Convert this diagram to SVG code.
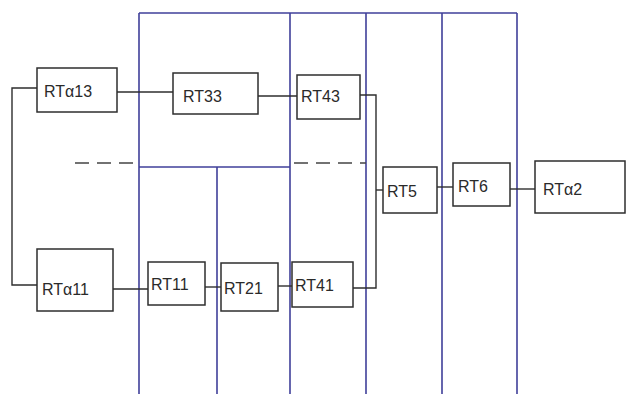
<svg xmlns="http://www.w3.org/2000/svg" width="630" height="394" viewBox="0 0 630 394">
<style>
.grid{stroke:#40409a;stroke-width:1.6;fill:none}
.box{fill:#fff;stroke:#2e2e2e;stroke-width:1.5}
.wire{stroke:#2e2e2e;stroke-width:1.4;fill:none}
.dash{stroke:#444;stroke-width:1.4;stroke-dasharray:14 8;fill:none}
text{font-family:"Liberation Sans",Arial,sans-serif;font-size:16px;fill:#2a2a2a}
</style>
<rect width="630" height="394" fill="#fff"/>
<g id="grid">
<path class="grid" d="M139,13 H517 M139,13 V394 M290,13 V394 M366,13 V394 M442,13 V394 M517,13 V394 M139,167 H290 M217,167 V394"/>
</g>
<g id="connectors">
<path class="wire" d="M37,88 H12 V285 H37"/>
<path class="wire" d="M117,92 H173"/>
<path class="wire" d="M258,96 H297"/>
<path class="wire" d="M360,95 H376 V288 H353"/>
<path class="wire" d="M376,190 H383"/>
<path class="wire" d="M112,289 H148"/>
<path class="wire" d="M205,287 H221"/>
<path class="wire" d="M278,286 H292"/>
<path class="wire" d="M437,187 H453"/>
<path class="wire" d="M510,189 H535"/>
<path class="dash" d="M75,163 H135 M294,163 H366"/>
</g>
<g id="RTa13"><rect class="box" x="37" y="68" width="80" height="44"/><text x="44" y="97" font-size="18">RTα13</text></g>
<g id="RT33"><rect class="box" x="173" y="73" width="85" height="41"/><text x="183" y="102" font-size="20">RT33</text></g>
<g id="RT43"><rect class="box" x="297" y="75" width="63" height="44"/><text x="301" y="102">RT43</text></g>
<g id="RT5"><rect class="box" x="383" y="167" width="54" height="46"/><text x="387" y="197" font-size="18">RT5</text></g>
<g id="RT6"><rect class="box" x="453" y="163" width="57" height="43"/><text x="458" y="192" font-size="17">RT6</text></g>
<g id="RTa2"><rect class="box" x="535" y="161" width="90" height="52"/><text x="543" y="195" font-size="20">RTα2</text></g>
<g id="RTa11"><rect class="box" x="37" y="249" width="76" height="62"/><text x="42" y="295" font-size="17">RTα11</text></g>
<g id="RT11"><rect class="box" x="148" y="262" width="57" height="43"/><text x="151" y="290">RT11</text></g>
<g id="RT21"><rect class="box" x="221" y="263" width="57" height="48"/><text x="224" y="294" font-size="17">RT21</text></g>
<g id="RT41"><rect class="box" x="292" y="262" width="61" height="45"/><text x="295" y="291" font-size="17">RT41</text></g>
</svg>
